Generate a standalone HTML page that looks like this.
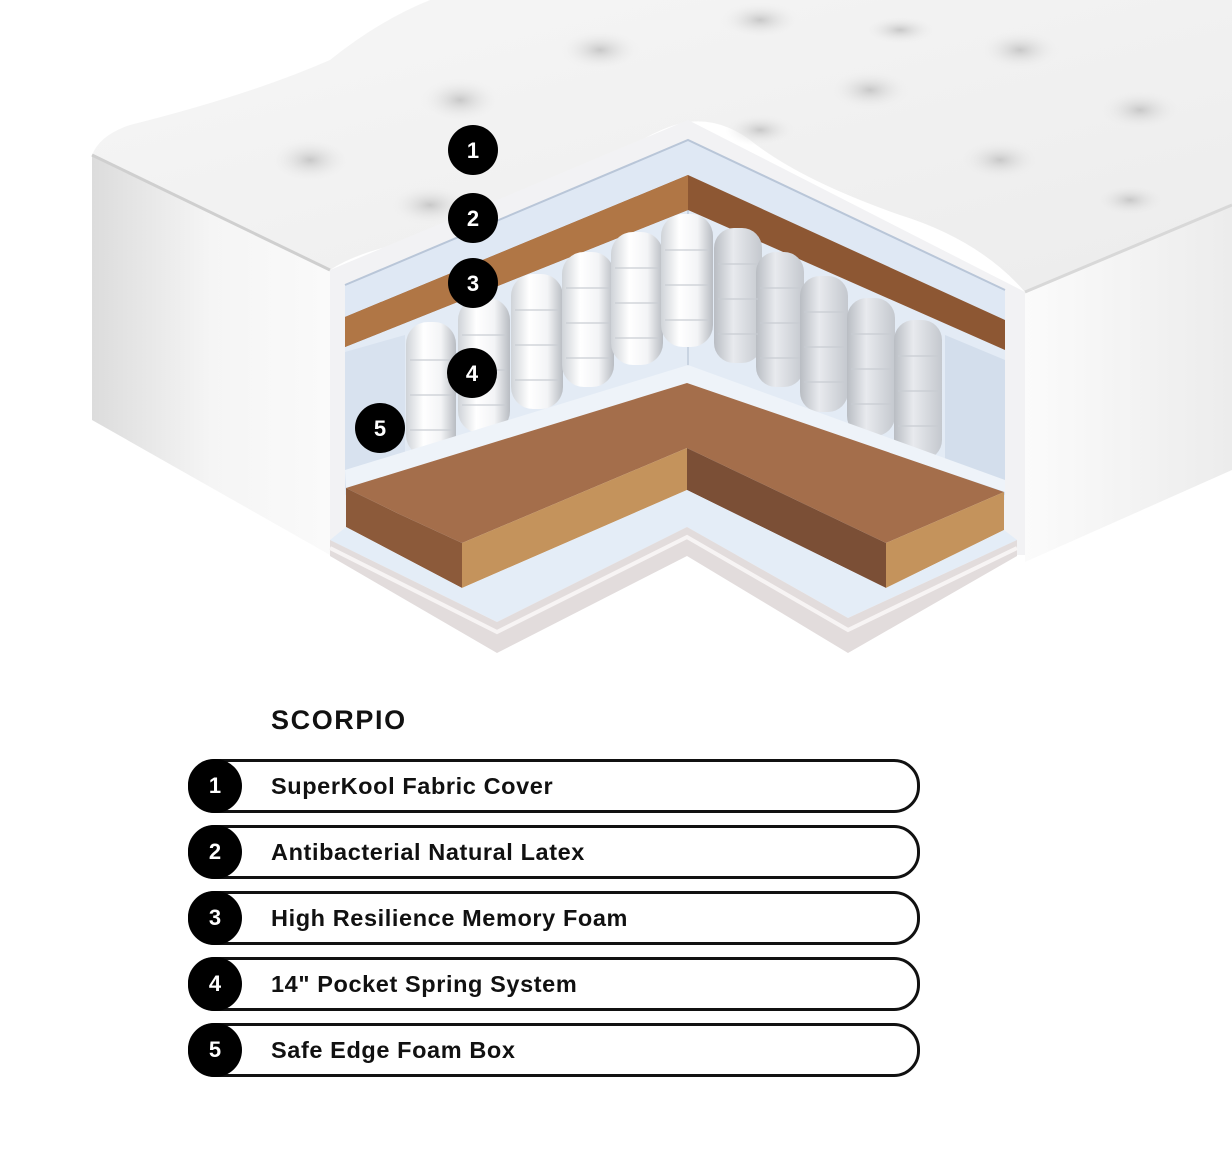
<!DOCTYPE html>
<html><head><meta charset="utf-8"><style>
html,body{margin:0;padding:0;background:#fff;}
body{width:1232px;height:1172px;position:relative;overflow:hidden;font-family:"Liberation Sans",sans-serif;}
.t{position:absolute;left:271px;top:705px;font-weight:bold;font-size:27px;color:#111;letter-spacing:1.6px;}
.row{position:absolute;left:188px;width:726px;height:48px;border:3px solid #111;border-radius:26px;box-sizing:content-box;}
.row .c{position:absolute;left:-3px;top:-3px;width:54px;height:54px;border-radius:50%;background:#000;color:#fff;font-weight:bold;font-size:22px;line-height:54px;text-align:center;}
.row .l{position:absolute;left:80px;top:0;line-height:48px;font-weight:bold;font-size:23.5px;letter-spacing:0.6px;color:#111;}
</style></head><body>
<svg width="1232" height="680" style="position:absolute;left:0;top:0">
<defs>
<linearGradient id="top" x1="0" y1="0" x2="1" y2="1"><stop offset="0" stop-color="#f6f6f6"/><stop offset="1" stop-color="#ececec"/></linearGradient>
<linearGradient id="lf" x1="0" y1="0" x2="1" y2="0"><stop offset="0" stop-color="#dcdcdc"/><stop offset="0.5" stop-color="#f5f5f5"/><stop offset="1" stop-color="#fafafa"/></linearGradient>
<linearGradient id="rf" x1="0" y1="0" x2="1" y2="0"><stop offset="0" stop-color="#fbfbfb"/><stop offset="1" stop-color="#ececec"/></linearGradient>
<linearGradient id="sp" x1="0" y1="0" x2="1" y2="0"><stop offset="0" stop-color="#cfd3d8"/><stop offset="0.35" stop-color="#ffffff"/><stop offset="0.7" stop-color="#f3f4f6"/><stop offset="1" stop-color="#b8bcc2"/></linearGradient>
<linearGradient id="spr" x1="0" y1="0" x2="1" y2="0"><stop offset="0" stop-color="#b9bdc3"/><stop offset="0.4" stop-color="#e8eaee"/><stop offset="1" stop-color="#c4c8ce"/></linearGradient>
<radialGradient id="dim"><stop offset="0" stop-color="#c8c8c8"/><stop offset="1" stop-color="#f0f0f0" stop-opacity="0"/></radialGradient>
</defs>
<path d="M92,155 Q100,135 130,125 Q250,95 330,60 Q380,20 430,0 L1232,0 L1232,205 L1025,292 Q980,240 900,215 Q800,180 750,140 Q720,118 688,122 Q650,128 600,170 Q520,230 420,240 Q360,250 330,270 Z" fill="url(#top)"/>
<g fill="url(#dim)">
<ellipse cx="310" cy="160" rx="40" ry="22"/><ellipse cx="460" cy="100" rx="40" ry="22"/><ellipse cx="600" cy="50" rx="40" ry="20"/>
<ellipse cx="430" cy="205" rx="40" ry="20"/><ellipse cx="760" cy="20" rx="40" ry="18"/><ellipse cx="870" cy="90" rx="40" ry="20"/>
<ellipse cx="1020" cy="50" rx="40" ry="20"/><ellipse cx="1000" cy="160" rx="40" ry="20"/><ellipse cx="1140" cy="110" rx="40" ry="20"/>
<ellipse cx="760" cy="130" rx="35" ry="16"/><ellipse cx="1130" cy="200" rx="35" ry="16"/><ellipse cx="900" cy="30" rx="35" ry="14"/>
</g>
<path d="M92,155 L330,270 L330,555 L92,420 Z" fill="url(#lf)"/>
<path d="M92,155 L330,270" stroke="#cfcfcf" stroke-width="3"/>
<path d="M1025,292 L1232,205 L1232,470 L1025,562 Z" fill="url(#rf)"/>
<path d="M1025,292 L1232,205" stroke="#d8d8d8" stroke-width="3"/>
<path d="M330,270 L688,120 L1025,292 L1025,555 L330,555 Z" fill="#f2f2f4"/>
<path d="M345,285 L688,140 L1005,290 L1005,500 L688,385 L345,495 Z" fill="#e3ebf5"/>
<path d="M688,140 L688,385" stroke="#c9d4e2" stroke-width="2"/>
<path d="M345,285 L688,140 L1005,290 L1005,320 L688,175 L345,317 Z" fill="#dfe8f4"/>
<path d="M345,285 L688,140 L1005,290" stroke="#b9c6d8" stroke-width="2" fill="none"/>
<path d="M345,317 L688,175 L1005,320 L1005,350 L688,210 L345,347 Z" fill="#8d5733"/>
<path d="M345,317 L688,175 L688,210 L345,347 Z" fill="#b07645"/>
<path d="M345,352 L405,335 L405,470 L345,490 Z" fill="#d8e2ef"/>
<path d="M945,335 L1005,360 L1005,495 L945,470 Z" fill="#d3deec"/>
<g>
<rect x="406" y="322" width="50" height="135" rx="22" fill="url(#sp)"/>
<rect x="458" y="298" width="52" height="135" rx="22" fill="url(#sp)"/>
<rect x="511" y="274" width="52" height="135" rx="22" fill="url(#sp)"/>
<rect x="562" y="252" width="52" height="135" rx="22" fill="url(#sp)"/>
<rect x="611" y="232" width="52" height="133" rx="22" fill="url(#sp)"/>
<rect x="661" y="214" width="52" height="133" rx="22" fill="url(#sp)"/>
<rect x="714" y="228" width="48" height="135" rx="20" fill="url(#spr)"/>
<rect x="756" y="252" width="48" height="135" rx="20" fill="url(#spr)"/>
<rect x="800" y="276" width="48" height="136" rx="20" fill="url(#spr)"/>
<rect x="847" y="298" width="48" height="138" rx="20" fill="url(#spr)"/>
<rect x="894" y="320" width="48" height="140" rx="20" fill="url(#spr)"/>
</g>
<g stroke="#c8ccd2" stroke-width="1.5" fill="none" opacity="0.8">
<path d="M410,360 h42 M410,395 h42 M410,430 h42"/>
<path d="M462,335 h44 M462,370 h44 M462,405 h44"/>
<path d="M515,310 h44 M515,345 h44 M515,380 h44"/>
<path d="M566,288 h44 M566,323 h44 M566,358 h44"/>
<path d="M615,268 h44 M615,303 h44 M615,338 h44"/>
<path d="M665,250 h44 M665,285 h44 M665,320 h44"/>
<path d="M718,264 h40 M718,299 h40 M718,334 h40"/>
<path d="M760,288 h40 M760,323 h40 M760,358 h40"/>
<path d="M804,312 h40 M804,347 h40 M804,382 h40"/>
<path d="M851,334 h40 M851,369 h40 M851,404 h40"/>
<path d="M898,356 h40 M898,391 h40 M898,426 h40"/>
</g>
<path d="M345,470 L688,365 L1005,480 L1005,492 L688,384 L346,488 Z" fill="#eef3f9"/>
<path d="M346,488 L687,383 L1004,492 L886,543 L687,448 L462,543 L397,513 Z" fill="#a46e4b"/>
<path d="M346,488 L397,513 L462,543 L462,588 L346,527 Z" fill="#8c5a3a"/>
<path d="M462,543 L687,448 L687,490 L462,588 Z" fill="#c4935c"/>
<path d="M687,448 L886,543 L886,588 L687,490 Z" fill="#7b4f36"/>
<path d="M886,543 L1004,492 L1004,530 L886,588 Z" fill="#c4935c"/>
<path d="M330,540 L497,622 L687,527 L848,618 L1017,540 L1004,530 L886,588 L687,490 L462,588 L346,527 Z" fill="#e4edf7"/>
<path d="M330,540 L497,622 L687,527 L848,618 L1017,540 L1017,556 L848,653 L687,556 L497,653 L330,556 Z" fill="#e2dcdc"/>
<path d="M330,548 L497,632 L687,537 L848,630 L1017,548" stroke="#f7f4f4" stroke-width="4" fill="none"/>
<g fill="#000">
<circle cx="473" cy="150" r="25"/><circle cx="473" cy="218" r="25"/><circle cx="473" cy="283" r="25"/><circle cx="472" cy="373" r="25"/><circle cx="380" cy="428" r="25"/>
</g>
<g fill="#fff" font-family="Liberation Sans, sans-serif" font-weight="bold" font-size="22" text-anchor="middle">
<text x="473" y="158">1</text><text x="473" y="226">2</text><text x="473" y="291">3</text><text x="472" y="381">4</text><text x="380" y="436">5</text>
</g>
</svg>
<div class="t">SCORPIO</div>
<div class="row" style="top:759px"><div class="c">1</div><div class="l">SuperKool Fabric Cover</div></div>
<div class="row" style="top:825px"><div class="c">2</div><div class="l">Antibacterial Natural Latex</div></div>
<div class="row" style="top:891px"><div class="c">3</div><div class="l">High Resilience Memory Foam</div></div>
<div class="row" style="top:957px"><div class="c">4</div><div class="l">14" Pocket Spring System</div></div>
<div class="row" style="top:1023px"><div class="c">5</div><div class="l">Safe Edge Foam Box</div></div>
</body></html>
